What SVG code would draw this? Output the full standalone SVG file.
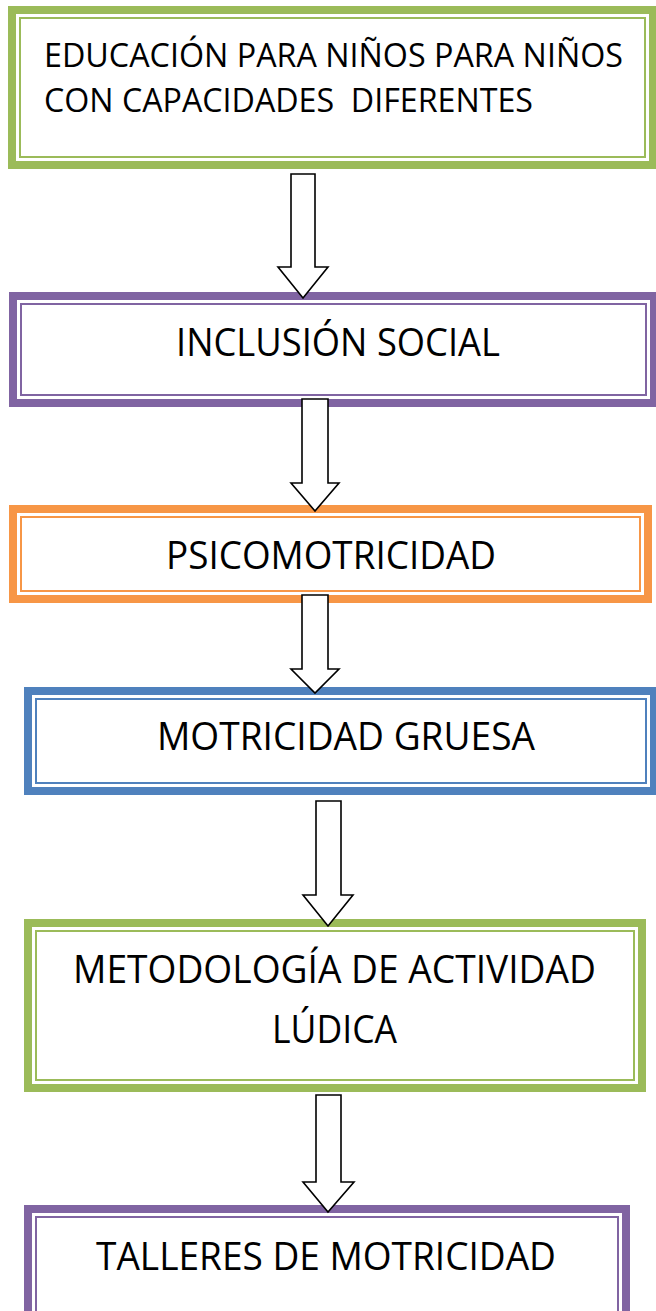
<svg xmlns="http://www.w3.org/2000/svg" width="656" height="1311" viewBox="0 0 656 1311">
<style>
.thick{fill:#fff;stroke-width:8}
.thin{fill:none;stroke-width:2}
.g{stroke:#9BBB59}.p{stroke:#8064A2}.o{stroke:#F79646}.b{stroke:#4F81BD}
text{font-family:"Open Sans","Liberation Sans",sans-serif;fill:#000;white-space:pre}
.t32{font-size:38.5px}
.t28{font-size:33.5px}
.arrow{fill:#fff;stroke:#000;stroke-width:1.6;stroke-linejoin:miter}
</style>
<rect width="656" height="1311" fill="#fff"/>
<g id="node1">
<rect class="thick g" x="12" y="10" width="641" height="155"/>
<rect class="thin g" x="20" y="18" width="625" height="139"/>
<text class="t28" x="44" y="67" textLength="579" lengthAdjust="spacingAndGlyphs">EDUCACIÓN PARA NIÑOS PARA NIÑOS</text>
<text class="t28" x="44" y="112" textLength="489" lengthAdjust="spacingAndGlyphs">CON CAPACIDADES  DIFERENTES</text>
</g>
<g id="node2">
<rect class="thick p" x="13" y="296" width="641" height="107"/>
<rect class="thin p" x="21" y="304" width="625" height="91"/>
<text class="t32" x="176" y="356" textLength="324" lengthAdjust="spacingAndGlyphs">INCLUSIÓN SOCIAL</text>
</g>
<g id="node3">
<rect class="thick o" x="13" y="509" width="635" height="90"/>
<rect class="thin o" x="21" y="517" width="619" height="74"/>
<text class="t32" x="166" y="569" textLength="330" lengthAdjust="spacingAndGlyphs">PSICOMOTRICIDAD</text>
</g>
<g id="node4">
<rect class="thick b" x="28" y="691" width="626" height="100"/>
<rect class="thin b" x="36" y="699" width="610" height="84"/>
<text class="t32" x="157" y="750" textLength="378" lengthAdjust="spacingAndGlyphs">MOTRICIDAD GRUESA</text>
</g>
<g id="node5">
<rect class="thick g" x="28" y="923" width="614" height="165"/>
<rect class="thin g" x="36" y="931" width="598" height="149"/>
<text class="t32" x="73" y="983" textLength="523" lengthAdjust="spacingAndGlyphs">METODOLOGÍA DE ACTIVIDAD</text>
<text class="t32" x="272" y="1043" textLength="125" lengthAdjust="spacingAndGlyphs">LÚDICA</text>
</g>
<g id="node6">
<rect class="thick p" x="28" y="1209" width="598" height="120"/>
<rect class="thin p" x="36" y="1217" width="582" height="104"/>
<text class="t32" x="96" y="1270" textLength="460" lengthAdjust="spacingAndGlyphs">TALLERES DE MOTRICIDAD</text>
</g>
<g id="connectors">
<polygon class="arrow" points="291,174 315,174 315,267 328,267 303,298 278,267 291,267"/>
<polygon class="arrow" points="302,399 328,399 328,483 339,483 315,511 291,483 302,483"/>
<polygon class="arrow" points="302,595 328,595 328,669 339,669 315,693 291,669 302,669"/>
<polygon class="arrow" points="316,801 341,801 341,895 353,895 328,926 303,895 316,895"/>
<polygon class="arrow" points="316,1095 341,1095 341,1182 354,1182 328,1212 303,1182 316,1182"/>
</g>
</svg>
